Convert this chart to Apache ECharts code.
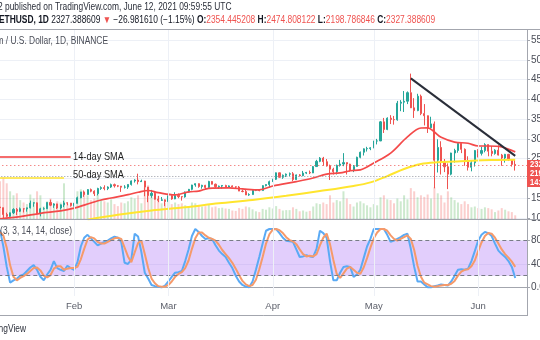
<!DOCTYPE html>
<html>
<head>
<meta charset="utf-8">
<script src="https://cdn.jsdelivr.net/npm/echarts@6/dist/echarts.min.js"></script>
<style>
  html, body { margin: 0; padding: 0; background: #ffffff; }
  #chart { width: 540px; height: 340px; }
</style>
</head>
<body>
<div id="chart"></div>
<script>
// ETHUSD daily candles, 2021-01-10 .. 2021-06-12 (Binance)
const candleOpen = [
  1278,1261,1088,1044,1131,1218,1171,1233,1231,1257,
  1377,1383,1114,1233,1234,1392,1324,1357,1252,1332,
  1382,1377,1315,1370,1512,1660,1593,1718,1677,1614,
  1746,1768,1744,1783,1843,1814,1805,1779,1781,1848,
  1937,1960,1919,1935,1781,1570,1626,1475,1446,1459,
  1416,1564,1482,1575,1540,1533,1655,1724,1834,1868,
  1795,1826,1772,1924,1854,1791,1806,1823,1782,1812,
  1787,1782,1680,1669,1583,1592,1700,1716,1693,1818,
  1846,1919,1977,2143,2029,2080,2109,2118,1972,2089,
  2070,2135,2152,2139,2300,2432,2514,2423,2315,2234,
  2171,2330,2364,2400,2363,2214,2303,2535,2662,2748,
  2756,2773,2946,2948,3431,3240,3524,3490,3482,3902,
  3928,3952,4168,3785,3715,4079,3640,3586,3282,3379,
  2460,2784,2431,2295,2109,2643,2707,2888,2736,2425,
  2283,2395,2707,2634,2706,2856,2689,2630,2715,2591,
  2517,2610,2472,2354.445208
];
const candleHigh = [
  1348,1262,1134,1136,1248,1250,1265,1250,1260,1440,
  1395,1392,1258,1270,1392,1465,1374,1360,1343,1436,
  1395,1380,1374,1540,1660,1695,1730,1745,1700,1765,
  1800,1827,1800,1870,1870,1830,1810,1830,1850,1950,
  1980,2120,1970,1940,1785,1710,1670,1560,1530,1470,
  1570,1600,1650,1620,1548,1670,1735,1840,1875,1875,
  1840,1838,1940,1935,1870,1820,1830,1840,1825,1825,
  1800,1808,1716,1735,1625,1700,1730,1720,1830,1850,
  1945,1990,2150,2145,2100,2125,2150,2160,2100,2108,
  2190,2165,2200,2315,2470,2540,2545,2490,2350,2270,
  2350,2470,2640,2400,2370,2340,2550,2680,2760,2800,
  2790,2950,3000,3450,3530,3545,3600,3580,3960,3980,
  4210,4200,4650,4030,4140,4120,3880,3590,3560,3440,
  2990,2940,2490,2380,2650,2750,2910,2895,2760,2560,
  2440,2720,2740,2800,2890,2860,2820,2740,2840,2620,
  2620,2620,2480,2474.808122
];
const candleLow = [
  1170,1000,1017,1030,1100,1075,1150,1140,1160,1242,
  1285,1100,1042,1210,1229,1300,1256,1226,1214,1275,
  1320,1290,1290,1365,1500,1535,1590,1650,1555,1570,
  1712,1700,1705,1760,1770,1780,1660,1745,1735,1820,
  1895,1850,1910,1550,1400,1510,1470,1400,1430,1300,
  1410,1460,1475,1500,1440,1515,1640,1700,1790,1765,
  1740,1730,1740,1850,1760,1735,1740,1780,1760,1785,
  1735,1680,1650,1580,1560,1590,1680,1675,1690,1800,
  1770,1910,1960,2020,1990,2035,2060,1930,1960,2050,
  2060,2110,2110,2135,2290,2410,2320,2300,1960,2100,
  2100,2300,2310,2100,2170,2160,2300,2510,2580,2680,
  2715,2765,2860,2945,3150,3220,3375,3360,3460,3700,
  3680,3880,3780,3530,3700,3600,3340,3150,3260,1750,
  2150,2100,2160,1730,2080,2400,2650,2640,2320,2200,
  2180,2300,2530,2580,2660,2560,2560,2600,2580,2320,
  2400,2440,2300,2198.786846
];
const candleClose = [
  1261,1088,1044,1131,1218,1171,1233,1231,1257,1377,
  1383,1114,1233,1234,1392,1324,1357,1252,1332,1382,
  1377,1315,1370,1512,1660,1593,1718,1677,1614,1746,
  1768,1744,1783,1843,1814,1805,1779,1781,1848,1937,
  1960,1919,1935,1781,1570,1626,1475,1446,1459,1416,
  1564,1482,1575,1540,1533,1655,1724,1834,1868,1795,
  1826,1772,1924,1854,1791,1806,1823,1782,1812,1787,
  1782,1680,1669,1583,1592,1700,1716,1693,1818,1846,
  1919,1977,2143,2029,2080,2109,2118,1972,2089,2070,
  2135,2152,2139,2300,2432,2514,2423,2315,2234,2171,
  2330,2364,2400,2363,2214,2303,2535,2662,2748,2756,
  2773,2946,2948,3431,3240,3524,3490,3482,3902,3928,
  3952,4168,3785,3715,4079,3640,3586,3282,3379,2460,
  2784,2431,2295,2109,2643,2707,2888,2736,2425,2283,
  2395,2707,2634,2706,2856,2689,2630,2715,2591,2517,
  2610,2472,2354.37,2327.388609
];
// daily volume, thousands of ETH
const volume = [
  950,1050,900,700,600,650,480,420,380,620,
  520,700,600,320,450,520,380,450,420,900,
  380,350,420,700,750,650,600,480,520,620,
  480,450,420,500,380,330,420,400,450,550,
  520,600,400,800,850,620,550,580,400,420,
  480,380,420,380,400,350,330,420,400,360,
  320,330,380,300,320,280,290,270,260,220,
  210,280,260,320,300,250,200,180,260,240,
  300,270,330,260,220,230,230,300,260,200,
  220,190,210,320,400,380,420,380,600,420,
  480,450,700,520,380,320,420,450,400,350,
  300,380,350,550,600,500,480,400,520,450,
  600,500,780,700,550,600,560,620,520,800,
  650,600,420,700,550,480,420,380,450,380,
  300,320,280,260,300,280,250,180,220,280,
  240,200,180,100
];
// Stoch RSI (3, 3, 14, 14, close)
const stochK = [
  98,70,35,8,12,15,20,22,28,34,
  38,30,18,12,22,30,45,33,30,28,
  37,33,30,43,70,85,90,84,78,72,
  75,78,80,84,87,85,78,42,40,48,
  92,87,60,25,15,4,2,1,0,3,
  10,18,25,26,28,45,65,88,100,95,
  88,83,84,83,72,63,57,52,42,33,
  20,10,4,1,0,10,30,52,75,97,
  100,100,100,93,85,80,79,78,65,52,
  53,55,53,52,66,97,93,85,45,12,
  12,25,35,36,35,18,22,30,50,70,
  83,100,100,100,100,90,78,80,83,86,
  90,92,66,35,10,10,5,0,0,2,
  3,5,4,3,10,20,30,31,30,32,
  45,62,80,90,95,93,88,75,63,57,
  52,45,35,16
];
const stochD = [
  95,89,68,38,18,12,16,19,23,28,
  33,34,29,20,17,21,32,36,36,30,
  32,33,33,35,48,66,82,86,84,78,
  75,75,78,81,84,85,83,68,53,43,
  60,76,80,57,33,15,7,2,1,1,
  4,10,18,23,26,33,46,66,84,94,
  94,89,85,83,80,73,64,57,50,42,
  32,21,11,5,2,4,13,31,52,75,
  91,99,100,98,93,86,81,79,74,65,
  57,53,54,53,57,72,85,92,74,47,
  23,16,24,32,35,30,25,23,34,50,
  68,84,94,100,100,97,89,83,80,83,
  86,89,83,64,37,18,8,5,2,1,
  2,3,4,4,6,11,20,27,30,31,
  36,46,62,77,88,93,92,85,75,65,
  57,51,44,35
];
// moving averages, read at selected days
const sma14Dates = [
  '2021-01-10','2021-01-16','2021-01-22','2021-01-28','2021-02-01','2021-02-06','2021-02-09',
  '2021-02-12','2021-02-17','2021-02-20','2021-02-23','2021-02-26','2021-03-03','2021-03-07',
  '2021-03-10','2021-03-13','2021-03-19','2021-03-23','2021-03-28','2021-04-01','2021-04-08',
  '2021-04-13','2021-04-17','2021-04-21','2021-04-24','2021-04-27','2021-05-01','2021-05-06',
  '2021-05-11','2021-05-15','2021-05-17','2021-05-19','2021-05-21','2021-05-25','2021-05-29',
  '2021-06-01','2021-06-04','2021-06-08','2021-06-12'
];
const sma14Values = [
  980,1033,1119,1180,1250,1379,1455,
  1506,1590,1650,1695,1640,1585,1660,
  1680,1750,1760,1735,1710,1810,1920,
  2010,2110,2140,2195,2215,2390,2640,
  3050,3275,3280,3175,3040,2920,2890,
  2820,2820,2795,2670
];
const sma50Dates = [
  '2021-02-05','2021-02-14','2021-02-24','2021-03-06','2021-03-16','2021-03-26','2021-04-05',
  '2021-04-15','2021-04-25','2021-04-30','2021-05-05','2021-05-10','2021-05-15','2021-05-20',
  '2021-05-25','2021-05-30','2021-06-05','2021-06-12'
];
const sma50Values = [
  955,1080,1190,1270,1370,1455,1560,
  1680,1810,1900,2060,2240,2365,2410,
  2430,2450,2465,2470
];
const monthStarts = ['2021-02-01','2021-03-01','2021-04-01','2021-05-01','2021-06-01'];
const monthLabels = ['Feb','Mar','Apr','May','Jun'];
const lastPrice = 2327.388609;
const trendFrom = ['2021-05-12', 4530];
const trendTo = ['2021-06-12', 2570];
const notes = [
  { text: '14-day SMA', at: ['2021-02-01', 2550] },
  { text: '50-day SMA', at: ['2021-02-01', 2087] }
];

// one category per calendar day, with a few empty days of right margin
const categories = [];
const firstDay = Date.UTC(2021, 0, 10);
for (let i = 0; i < 157; i++) {
  categories.push(new Date(firstDay + i * 86400000).toISOString().slice(0, 10));
}

const FONT = "'Liberation Sans', sans-serif";
const NARROW = 0.84;           // horizontal squeeze for the narrow UI face
const UP = '#26a69a', DOWN = '#ef5350';
const GRID_LINE = '#edf0f6';
const BORDER = '#a3a6ae';
const isMonthStart = (idx, val) => monthStarts.indexOf(val) >= 0;

const gridBase = { left: -1.685, right: 13, containLabel: false, outerBoundsMode: 'none' };
const hiddenX = (gi) => ({ type: 'category', data: categories, boundaryGap: true, gridIndex: gi, show: false });

const chart = echarts.init(document.getElementById('chart'), null, { renderer: 'canvas' });

const baseGraphic = [
  { type: 'text', x: -2, y: 7.6, z: 50, scaleX: NARROW, style: {
    text: '2 published on TradingView.com, June 12, 2021 09:59:55 UTC',
    font: '10px ' + FONT, fill: '#2a2e39', verticalAlign: 'middle', align: 'left' } },
  { type: 'text', x: -1, y: 20.7, z: 50, scaleX: NARROW, style: {
    text: '{b|ETHUSD, 1D} {n|2327.388609} {r|▼} {n|−26.981610 (−1.15%)} {b|O:}{r|2354.445208} {b|H:}{r|2474.808122} {b|L:}{r|2198.786846} {b|C:}{r|2327.388609}',
    verticalAlign: 'middle', align: 'left', font: '10px ' + FONT,
    rich: {
      b: { fontFamily: FONT, fontSize: 10, fontWeight: 'bold', fill: '#131722' },
      n: { fontFamily: FONT, fontSize: 10, fill: '#131722' },
      r: { fontFamily: FONT, fontSize: 10, fill: '#ef5350' }
    } } },
  { type: 'line', z: 50, shape: { x1: 0, y1: 29.5, x2: 540, y2: 29.5 }, style: { stroke: BORDER, lineWidth: 1 } },
  { type: 'line', z: 50, shape: { x1: 0, y1: 219.5, x2: 540, y2: 219.5 }, style: { stroke: BORDER, lineWidth: 1 } },
  { type: 'line', z: 50, shape: { x1: 0, y1: 315.5, x2: 527.5, y2: 315.5 }, style: { stroke: BORDER, lineWidth: 1 } },
  { type: 'line', z: 50, shape: { x1: 527.5, y1: 29, x2: 527.5, y2: 316 }, style: { stroke: BORDER, lineWidth: 1 } },
  { type: 'text', x: 108, y: 41, z: 50, scaleX: NARROW, style: {
    text: 'Ethereum / U.S. Dollar, 1D, BINANCE', font: '10px ' + FONT, fill: '#4a4d57',
    align: 'right', verticalAlign: 'middle' } },
  { type: 'text', x: 72, y: 231.7, z: 50, scaleX: NARROW, style: {
    text: 'Stoch RSI (3, 3, 14, 14, close)', font: '10px ' + FONT, fill: '#4a4d57',
    align: 'right', verticalAlign: 'middle' } },
  { type: 'text', x: 26, y: 329, z: 50, scaleX: NARROW, style: {
    text: 'TradingView', font: '10px ' + FONT, fill: '#2a2e39',
    align: 'right', verticalAlign: 'middle' } },
  // last price tag on the scale
  { type: 'rect', z: 60, shape: { x: 527, y: 160, width: 14, height: 27 }, style: { fill: '#ef5350' } },
  { type: 'text', x: 530, y: 165, z: 61, scaleX: NARROW, style: { text: '2327.388609', font: 'bold 9px ' + FONT, fill: '#ffffff', verticalAlign: 'middle' } },
  { type: 'text', x: 530, y: 173.7, z: 61, scaleX: NARROW, style: { text: '2198.786846', font: 'bold 9px ' + FONT, fill: '#ffffff', verticalAlign: 'middle' } },
  { type: 'text', x: 530, y: 182.3, z: 61, scaleX: NARROW, style: { text: '14:00:05', font: 'bold 9px ' + FONT, fill: '#ffffff', verticalAlign: 'middle' } }
];

chart.setOption({
  animation: false,
  backgroundColor: '#ffffff',
  textStyle: { fontFamily: FONT },
  grid: [
    Object.assign({ top: 29, height: 190.3 }, gridBase),   // price data
    Object.assign({ top: 40, height: 178 }, gridBase),     // price scale
    Object.assign({ top: 159.3, height: 60 }, gridBase),   // volume
    Object.assign({ top: 220, height: 76 }, gridBase),     // stoch data
    Object.assign({ top: 240.7, height: 46.6 }, gridBase)  // stoch scale
  ],
  xAxis: [
    hiddenX(0), hiddenX(1), hiddenX(2),
    {
      type: 'category', data: categories, boundaryGap: true, gridIndex: 3,
      axisLine: { show: true, lineStyle: { color: BORDER, width: 1 } },
      axisTick: { show: true, alignWithLabel: true, interval: isMonthStart, length: 3, lineStyle: { color: BORDER } },
      axisLabel: {
        interval: isMonthStart, margin: 5, color: '#5d606b', fontSize: 9.5, fontFamily: FONT,
        formatter: (v) => monthLabels[monthStarts.indexOf(v)] || ''
      },
      splitLine: { show: false }
    },
    hiddenX(4)
  ],
  yAxis: [
    { type: 'value', gridIndex: 0, min: 967.1, max: 5778.1, show: false },
    {
      type: 'value', gridIndex: 1, position: 'right', min: 1000, max: 5500, interval: 500,
      axisLine: { show: false },
      axisTick: { show: true, length: 3, lineStyle: { color: BORDER } },
      axisLabel: { margin: 4, color: '#4a4d57', fontSize: 10, fontFamily: FONT, formatter: (v) => v.toFixed(6) },
      splitLine: { show: true, lineStyle: { color: GRID_LINE, width: 1 } }
    },
    { type: 'value', gridIndex: 2, min: 0, max: 1500, show: false },
    { type: 'value', gridIndex: 3, min: -14.92, max: 115.44, show: false },
    {
      type: 'value', gridIndex: 4, position: 'right', min: 0, max: 80, interval: 40,
      axisLine: { show: false },
      axisTick: { show: true, length: 3, lineStyle: { color: BORDER } },
      axisLabel: { margin: 4, color: '#4a4d57', fontSize: 10, fontFamily: FONT, formatter: (v) => v.toFixed(2) },
      splitLine: { show: true, lineStyle: { color: GRID_LINE, width: 1 } }
    }
  ],
  series: [
    // month gridlines in the price pane
    {
      type: 'line', xAxisIndex: 0, yAxisIndex: 0, data: [], z: 1, silent: true,
      markLine: {
        silent: true, symbol: ['none', 'none'], label: { show: false },
        lineStyle: { color: GRID_LINE, width: 1, type: 'solid' },
        data: monthStarts.map((d) => ({ xAxis: d }))
      }
    },
    // volume
    {
      type: 'bar', xAxisIndex: 2, yAxisIndex: 2, barWidth: 2, z: 1, silent: true,
      data: volume.map((v, i) => ({
        value: v,
        itemStyle: { color: candleClose[i] >= candleOpen[i] ? 'rgba(76,175,80,0.28)' : 'rgba(239,83,80,0.28)' }
      }))
    },
    // candles
    {
      type: 'candlestick', xAxisIndex: 0, yAxisIndex: 0, barWidth: 1.6, z: 2, silent: true,
      itemStyle: { color: UP, color0: DOWN, borderColor: UP, borderColor0: DOWN, borderWidth: 1 },
      data: candleOpen.map((o, i) => [o, candleClose[i], candleLow[i], candleHigh[i]])
    },
    // 50-day SMA
    {
      type: 'line', xAxisIndex: 0, yAxisIndex: 0, z: 3, silent: true, symbol: 'none', smooth: 0.35,
      lineStyle: { color: '#ffe52e', width: 2 },
      data: sma50Dates.map((d, i) => [d, sma50Values[i]])
    },
    // 14-day SMA
    {
      type: 'line', xAxisIndex: 0, yAxisIndex: 0, z: 3, silent: true, symbol: 'none', smooth: 0.35,
      lineStyle: { color: '#f44a4a', width: 1.7 },
      data: sma14Dates.map((d, i) => [d, sma14Values[i]])
    },
    // drawings: price line, levels, trend line
    {
      type: 'line', xAxisIndex: 0, yAxisIndex: 0, data: [], z: 5, silent: true,
      markLine: {
        silent: true, symbol: ['none', 'none'], animation: false,
        data: [
          { yAxis: 2045, lineStyle: { color: '#9598a1', width: 1, type: [1, 2] }, label: { show: false } },
          { yAxis: lastPrice, lineStyle: { color: '#ef5350', width: 1, type: [1, 3] }, label: { show: false } },
          [
            { coord: [categories[0], 2545], lineStyle: { color: '#f23b3b', width: 1.5, type: 'solid' }, label: { show: false } },
            { coord: [categories[21], 2545] }
          ],
          [
            { coord: [categories[0], 2010], lineStyle: { color: '#ffe52e', width: 1.5, type: 'solid' }, label: { show: false } },
            { coord: [categories[19], 2010] }
          ],
          [
            { coord: trendFrom, lineStyle: { color: '#2a2e39', width: 2, type: 'solid' }, label: { show: false } },
            { coord: trendTo }
          ]
        ]
      }
    },
    // Stoch RSI band and levels
    {
      type: 'line', xAxisIndex: 3, yAxisIndex: 3, data: [], z: 1, silent: true,
      markArea: {
        silent: true, itemStyle: { color: 'rgba(170,110,245,0.34)' },
        data: [[{ yAxis: 20 }, { yAxis: 80 }]]
      },
      markLine: {
        silent: true, symbol: ['none', 'none'], label: { show: false },
        data: [
          { yAxis: 80, lineStyle: { color: '#787b86', width: 1, type: [4, 3] } },
          { yAxis: 20, lineStyle: { color: '#787b86', width: 1, type: [4, 3] } }
        ].concat(monthStarts.map((d) => ({ xAxis: d, lineStyle: { color: GRID_LINE, width: 1, type: 'solid' } })))
      }
    },
    {
      type: 'line', xAxisIndex: 3, yAxisIndex: 3, z: 3, silent: true, symbol: 'none',
      lineStyle: { color: '#5aaaf5', width: 2 }, data: stochK
    },
    {
      type: 'line', xAxisIndex: 3, yAxisIndex: 3, z: 4, silent: true, symbol: 'none',
      lineStyle: { color: '#f69a6a', width: 2 }, data: stochD
    }
  ],
  graphic: baseGraphic
});

// drawing notes placed through the price scale
const noteGraphic = notes.map((n) => {
  const p = chart.convertToPixel({ gridIndex: 0 }, n.at);
  return {
    type: 'text', x: p[0] - 1, y: p[1], z: 55, scaleX: NARROW,
    style: { text: n.text, font: '11px ' + FONT, fill: '#1e1e1e', align: 'left', verticalAlign: 'middle' }
  };
});
chart.setOption({ graphic: baseGraphic.concat(noteGraphic) });
</script>
</body>
</html>
